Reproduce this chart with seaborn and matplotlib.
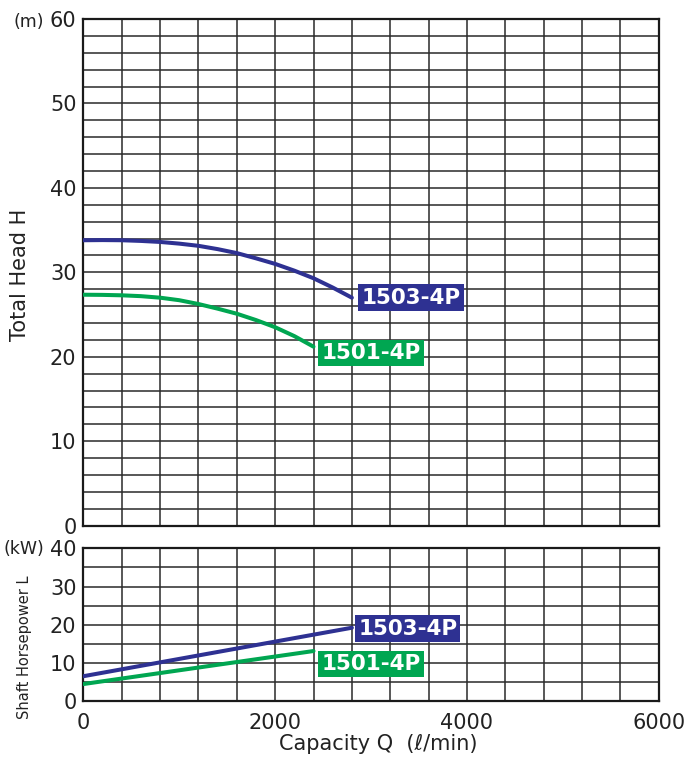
import pandas as pd
import matplotlib
matplotlib.use("Agg")
import matplotlib.pyplot as plt
import seaborn as sns

# head curves (Total Head H, m)
q_1503 = [0, 200, 400, 600, 800, 1000, 1200, 1400, 1600, 1800, 2000, 2200, 2400, 2600, 2800]
head_1503 = [33.8, 33.82, 33.8, 33.72, 33.6, 33.4, 33.14, 32.75, 32.28, 31.66, 31.0, 30.2, 29.3, 28.2, 27.0]
q_1501 = [0, 200, 400, 600, 800, 1000, 1200, 1400, 1600, 1800, 2000, 2200, 2400]
head_1501 = [27.35, 27.33, 27.28, 27.18, 27.0, 26.7, 26.25, 25.7, 25.1, 24.35, 23.5, 22.45, 21.2]

# shaft horsepower (kW), straight lines
q_power_1503 = [0, 2800]
power_1503 = [6.5, 19.2]
q_power_1501 = [0, 2400]
power_1501 = [4.45, 13.1]

x_ticks = [0, 2000, 4000, 6000]
head_ticks = [0, 10, 20, 30, 40, 50, 60]
power_ticks = [0, 10, 20, 30, 40]

BLUE = "#2e3192"
GREEN = "#00a651"

sns.set_style("white")
plt.rcParams['font.family'] = ['DejaVu Sans']

fig = plt.figure(figsize=(6.87, 7.62), dpi=100)
ax_h = fig.add_axes([0.1213, 0.3101, 0.8376, 0.665])
ax_p = fig.add_axes([0.1213, 0.0800, 0.8376, 0.2004])

df_h1503 = pd.DataFrame({"Q": q_1503, "H": head_1503})
df_h1501 = pd.DataFrame({"Q": q_1501, "H": head_1501})
df_p1503 = pd.DataFrame({"Q": q_power_1503, "L": power_1503})
df_p1501 = pd.DataFrame({"Q": q_power_1501, "L": power_1501})

sns.lineplot(data=df_h1503, x="Q", y="H", ax=ax_h, color=BLUE, lw=2.9, zorder=5)
sns.lineplot(data=df_h1501, x="Q", y="H", ax=ax_h, color=GREEN, lw=2.9, zorder=5)
sns.lineplot(data=df_p1503, x="Q", y="L", ax=ax_p, color=BLUE, lw=2.9, zorder=5)
sns.lineplot(data=df_p1501, x="Q", y="L", ax=ax_p, color=GREEN, lw=2.9, zorder=5)


def style_axis(ax, yticks, ystep):
    ax.set_xlim(0, 6000)
    ax.set_ylim(yticks[0], yticks[-1])
    ax.set_xticks(x_ticks)
    ax.set_xticks(range(0, 6001, 400), minor=True)
    ax.set_yticks(yticks)
    ax.set_yticks(range(yticks[0], yticks[-1] + 1, ystep), minor=True)
    ax.grid(True, which="both", color="#2a2a2a", lw=1.1)
    ax.set_axisbelow(True)
    for s in ax.spines.values():
        s.set_color("#1a1a1a")
        s.set_linewidth(1.6)
    ax.tick_params(axis="y", which="both", length=0, pad=5, labelsize=15, colors="#222222")
    ax.tick_params(axis="x", which="minor", length=0)
    ax.set_xlabel("")
    ax.set_ylabel("")


style_axis(ax_h, head_ticks, 2)
style_axis(ax_p, power_ticks, 5)

ax_h.tick_params(axis="x", which="major", length=0, labelbottom=False)
ax_p.tick_params(axis="x", which="major", length=4.3, width=1.3, pad=4,
                 labelsize=15, colors="#222222")
ticks = ax_p.xaxis.get_major_ticks()
ticks[0].tick1line.set_visible(False)
ticks[-1].tick1line.set_visible(False)

ax_h.set_ylabel("Total Head H", fontsize=15, color="#222222")
ax_h.yaxis.set_label_coords(-0.0926, 0.495)
ax_p.set_ylabel("Shaft Horsepower L", fontsize=10.5, color="#222222")
ax_p.yaxis.set_label_coords(-0.0897, 0.35)
ax_p.set_xlabel("Capacity Q  (\u2113/min)", fontsize=15, color="#222222")
ax_p.xaxis.set_label_coords(0.512, -0.215)

fig.text(0.064, 0.971, "(m)", fontsize=12.5, ha="right", va="center", color="#222222")
fig.text(0.064, 0.279, "(kW)", fontsize=12.5, ha="right", va="center", color="#222222")


def tag(ax, text, xy, offset, color):
    ax.annotate(text, xy=xy, xytext=offset, textcoords="offset points",
                ha="left", va="center", fontsize=15.5, fontweight="bold", color="white",
                bbox=dict(boxstyle="square,pad=0.15", fc=color, ec="none"), zorder=6)


tag(ax_h, "1503-4P", (q_1503[-1], head_1503[-1]), (6.7, 0), BLUE)
tag(ax_h, "1501-4P", (q_1501[-1], head_1501[-1]), (5.5, -4.4), GREEN)
tag(ax_p, "1503-4P", (q_power_1503[-1], power_1503[-1]), (4.5, -0.7), BLUE)
tag(ax_p, "1501-4P", (q_power_1501[-1], power_1501[-1]), (5.5, -9.4), GREEN)

fig.savefig("out.png", dpi=100)
